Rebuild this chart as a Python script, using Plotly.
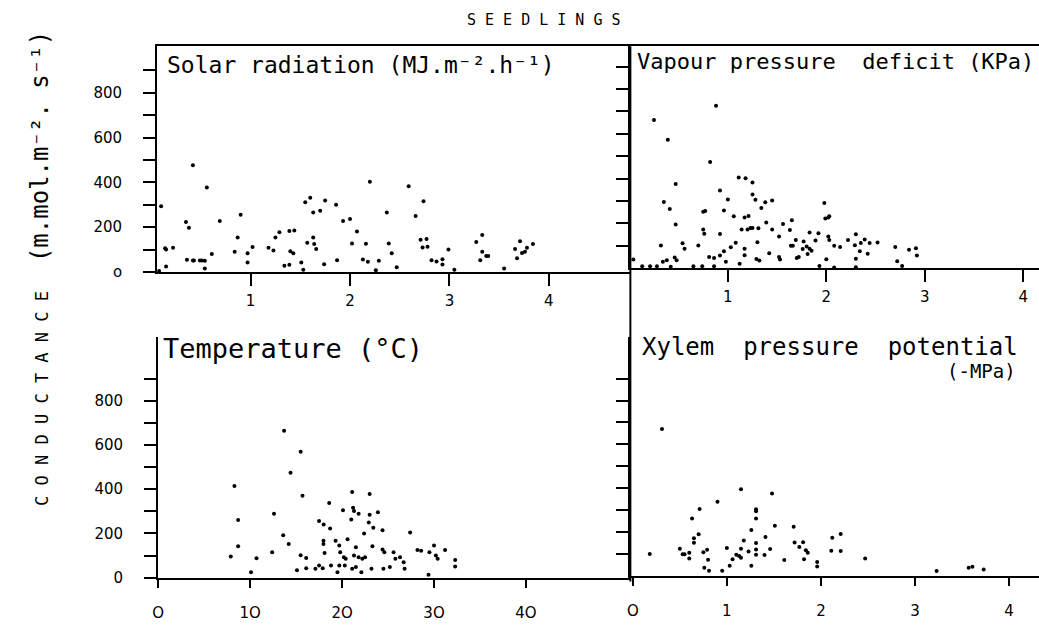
import plotly.graph_objects as go

# ---------------- data ----------------
solar_pts = [(0.10,294),(0.08,5),(0.15,101),(0.15,25),(0.14,106),(0.22,109),(0.35,223),(0.38,198),
    (0.42,476),(0.36,55),(0.42,52),(0.43,52),(0.49,52),(0.51,52),(0.54,50),(0.54,16),(0.56,377),
    (0.61,81),(0.69,228),(0.84,91),(0.87,154),(0.90,256),(0.97,84),(0.97,43),(1.02,112),(1.18,109),
    (1.23,96),(1.25,154),(1.29,178),(1.34,28),(1.39,33),(1.39,183),(1.44,185),(1.40,93),(1.43,84),
    (1.51,43),(1.53,10),(1.55,311),(1.57,131),(1.60,332),(1.63,266),(1.63,154),(1.64,125),(1.66,103),
    (1.70,273),(1.74,35),(1.75,319),(1.86,300),(1.87,53),(1.93,228),(2.00,237),(2.02,128),(2.07,181),
    (2.13,56),(2.16,126),(2.18,46),(2.20,403),(2.26,8),(2.29,50),(2.37,266),(2.39,128),(2.42,84),
    (2.47,22),(2.59,383),(2.66,250),(2.74,316),(2.71,144),(2.77,147),(2.73,110),(2.78,113),(2.82,53),
    (2.87,47),(2.93,57),(2.93,34),(2.99,101),(3.05,10),(3.27,134),(3.33,165),(3.33,91),(3.31,53),
    (3.37,72),(3.39,72),(3.55,16),(3.66,103),(3.71,137),(3.68,62),(3.73,85),(3.76,91),(3.78,109),(3.84,125)]

vpd_pts = [(0.04,38),(0.13,8),(0.21,8),(0.28,8),(0.42,6),(0.65,8),(0.74,8),(0.86,8),(0.25,662),(0.39,574),
    (0.47,376),(0.35,295),(0.41,264),(0.47,195),(0.32,101),(0.34,28),(0.38,35),(0.46,48),(0.48,35),
    (0.54,111),(0.56,87),(0.70,101),(0.75,173),(0.76,154),(0.75,252),(0.77,255),(0.82,474),(0.88,726),
    (0.81,50),(0.86,45),(0.92,153),(0.92,347),(0.96,257),(1.00,307),(0.92,56),(0.96,75),(0.98,28),
    (1.03,93),(1.06,232),(1.08,113),(1.11,405),(1.12,19),(1.14,173),(1.17,226),(1.21,233),(1.18,402),
    (1.17,87),(1.17,57),(1.20,173),(1.23,179),(1.25,179),(1.25,383),(1.25,329),(1.28,305),(1.30,116),
    (1.29,41),(1.32,34),(1.31,178),(1.34,269),(1.38,294),(1.39,204),(1.42,67),(1.45,302),(1.45,173),
    (1.52,141),(1.52,50),(1.53,38),(1.56,197),(1.63,170),(1.65,214),(1.64,100),(1.66,100),(1.69,126),
    (1.70,45),(1.72,50),(1.76,85),(1.77,119),(1.80,97),(1.83,87),(1.85,78),(1.81,63),(1.83,159),
    (1.89,123),(1.92,156),(1.93,9),(1.98,291),(1.99,222),(2.02,226),(2.03,232),(2.00,40),(2.02,141),
    (2.03,126),(2.08,100),(2.08,3),(2.30,4),(2.14,94),(2.22,126),(2.30,151),(2.29,102),(2.35,112),
    (2.39,128),(2.44,112),(2.34,75),(2.30,42),(2.42,64),(2.52,115),(2.70,94),(2.72,31),(2.77,9),
    (2.84,82),(2.91,89),(2.92,56)]

temp_pts = [(7.9,96),(8.7,142),(8.7,261),(8.3,415),(10.1,25),(10.7,88),(12.4,115),(12.6,289),(13.6,192),
    (13.7,665),(14.2,152),(14.4,475),(15.5,569),(15.7,371),(15.5,101),(16.1,89),(15.1,33),(16.1,43),
    (17.1,40),(17.5,55),(17.9,43),(17.5,256),(18.0,241),(18.6,338),(18.7,222),(17.98,167),(17.98,152),
    (18.1,112),(18.8,55),(19.3,167),(19.7,145),(19.7,55),(19.5,25),(20.1,305),(19.8,115),(20.2,92),
    (20.4,85),(20.6,174),(20.3,55),(21.1,387),(21.2,316),(21.3,301),(21.0,263),(21.5,137),(21.1,40),
    (21.8,289),(21.3,100),(21.8,92),(22.2,85),(22.5,92),(21.5,48),(22.1,25),(22.4,200),(22.9,249),
    (23.0,378),(23.0,284),(23.3,142),(23.2,40),(23.4,226),(23.9,296),(24.4,214),(24.4,127),(24.5,40),
    (24.6,115),(25.6,115),(25.8,85),(26.3,92),(25.2,48),(26.7,70),(26.8,40),(27.4,204),(28.2,125),
    (28.6,122),(29.5,115),(30.0,145),(30.2,100),(30.4,85),(31.2,125),(32.3,80),(32.3,51),(29.4,13)]

xylem_pts = [(0.18,99),(0.31,670),(0.50,123),(0.53,98),(0.55,98),(0.60,105),(0.60,78),(0.63,261),(0.65,150),
    (0.65,171),(0.70,189),(0.71,305),(0.75,107),(0.79,118),(0.80,73),(0.76,36),(0.81,23),(0.90,338),
    (0.95,23),(1.00,127),(1.03,45),(1.06,75),(1.10,96),(1.13,90),(1.15,82),(1.15,123),(1.15,395),
    (1.18,161),(1.23,111),(1.26,209),(1.26,45),(1.31,303),(1.31,294),(1.31,261),(1.31,149),(1.31,120),
    (1.31,96),(1.40,95),(1.41,177),(1.46,122),(1.48,375),(1.51,228),(1.61,72),(1.71,224),(1.72,152),
    (1.77,131),(1.81,153),(1.82,75),(1.84,116),(1.86,105),(1.96,63),(1.96,42),(2.12,173),(2.11,114),
    (2.21,191),(2.21,113),(2.47,78),(3.23,21),(3.57,36),(3.61,41),(3.73,28)]

y_major = [0, 200, 400, 600, 800]
y_major_text_top = ["o", "200", "400", "600", "800"]
y_major_text_bottom = ["0", "200", "400", "600", "800"]
y_minor = [100, 300, 500, 700, 900]
y_all_right = [100, 200, 300, 400, 500, 600, 700, 800, 900]
x_ticks_top = [1, 2, 3, 4]
x_ticks_temp = [0, 10, 20, 30, 40]
x_text_temp = ["O", "1O", "2O", "3O", "4O"]
x_ticks_xylem = [0, 1, 2, 3, 4]
x_text_xylem = ["O", "1", "2", "3", "4"]

title_text = "S E E D L I N G S"
ylabel_text = ("<span style='font-size:17px'>C O N D U C T A N C E</span>  "
               "(m.mol.m⁻². s⁻¹)")
panel_labels = ["Solar radiation (MJ.m⁻².h⁻¹)",
                "Vapour pressure  deficit (KPa)",
                "Temperature (°C)",
                "Xylem  pressure  potential"]
unit_xylem = "(-MPa)"

# ---------------- layout helpers ----------------
W, H = 1039, 632
def fx(px):
    return px / W
def fy(py):
    return 1 - py / H

FONT = "DejaVu Sans"
HAND = "DejaVu Sans Mono"
INK = "black"

fig = go.Figure()
panels = [(solar_pts, "x", "y"), (vpd_pts, "x2", "y2"), (temp_pts, "x3", "y3"), (xylem_pts, "x4", "y4")]
for pts, xa, ya in panels:
    xs = [p[0] for p in pts]
    ys = [p[1] for p in pts]
    fig.add_trace(go.Scatter(x=xs, y=ys, mode="markers", xaxis=xa, yaxis=ya,
                             marker=dict(size=4, color=INK), cliponaxis=False,
                             showlegend=False, hoverinfo="skip"))

common = dict(showgrid=False, zeroline=False, showline=True, linecolor=INK, linewidth=2,
              ticks="outside", tickwidth=2, tickcolor=INK,
              tickfont=dict(family=FONT, size=15, color=INK))
minor_y = dict(tickmode="array", tickvals=y_minor, ticks="outside", ticklen=12,
               tickwidth=2, tickcolor=INK, showgrid=False)

fig.update_layout(
    width=W, height=H, margin=dict(l=0, r=0, t=0, b=0),
    paper_bgcolor="white", plot_bgcolor="white",
    xaxis=dict(common, domain=[fx(152), fx(628)], range=[0.06, 4.82], anchor="y",
               tickvals=x_ticks_top, ticklen=12, ticklabelstandoff=2, mirror=True),
    yaxis=dict(common, domain=[fy(276), fy(47)], range=[0, 1007], anchor="x",
               tickvals=y_major, ticktext=y_major_text_top, ticklen=12, ticklabelstandoff=18,
               minor=minor_y),
    xaxis2=dict(common, domain=[fx(628), 1], range=[0.01, 4.16], anchor="y2",
                tickvals=x_ticks_top, ticklen=12, ticklabelstandoff=2, mirror=True),
    yaxis2=dict(common, domain=[fy(272), fy(47)], range=[0, 991], anchor="x2",
                tickvals=y_all_right, showticklabels=False, ticklen=12),
    xaxis3=dict(common, domain=[fx(153), fx(628)], range=[0, 51.35], anchor="y3",
                tickvals=x_ticks_temp, ticktext=x_text_temp, ticklen=8, ticklabelstandoff=12),
    yaxis3=dict(common, domain=[fy(586), fy(342)], range=[0, 1088], anchor="x3",
                tickvals=y_major, ticktext=y_major_text_bottom, ticklen=12, ticklabelstandoff=18,
                minor=minor_y),
    xaxis4=dict(common, domain=[fx(628), 1], range=[-0.026, 4.318], anchor="y4",
                tickvals=x_ticks_xylem, ticktext=x_text_xylem, ticklen=8, ticklabelstandoff=12),
    yaxis4=dict(common, domain=[fy(584), fy(342)], range=[0, 1090], anchor="x4",
                tickvals=y_all_right, showticklabels=False, ticklen=12),
)

# shared vertical divider between left and right panels
fig.add_shape(type="line", xref="paper", yref="paper", x0=fx(628), x1=fx(628),
              y0=fy(47), y1=fy(590), line=dict(color=INK, width=2))

ann = []
ann.append(dict(text=title_text, x=fx(541), y=fy(20), font=dict(family=HAND, size=15, color=INK)))
ann.append(dict(text=ylabel_text, x=fx(34), y=fy(272), textangle=-90,
                font=dict(family=HAND, size=24, color=INK)))
ann.append(dict(text=panel_labels[0], x=fx(160), y=fy(66), xanchor="left",
                font=dict(family=HAND, size=23, color=INK)))
ann.append(dict(text=panel_labels[1], x=fx(633), y=fy(62), xanchor="left",
                font=dict(family=HAND, size=22, color=INK)))
ann.append(dict(text=panel_labels[2], x=fx(156), y=fy(354), xanchor="left",
                font=dict(family=HAND, size=27, color=INK)))
ann.append(dict(text=panel_labels[3], x=fx(638), y=fy(352), xanchor="left",
                font=dict(family=HAND, size=24, color=INK)))
ann.append(dict(text=unit_xylem, x=fx(981), y=fy(376),
                font=dict(family=HAND, size=19, color=INK)))
for a in ann:
    a.update(xref="paper", yref="paper", showarrow=False)
    a.setdefault("xanchor", "center")
    a.setdefault("yanchor", "middle")
fig.update_layout(annotations=ann)

fig.write_html("out.html")
